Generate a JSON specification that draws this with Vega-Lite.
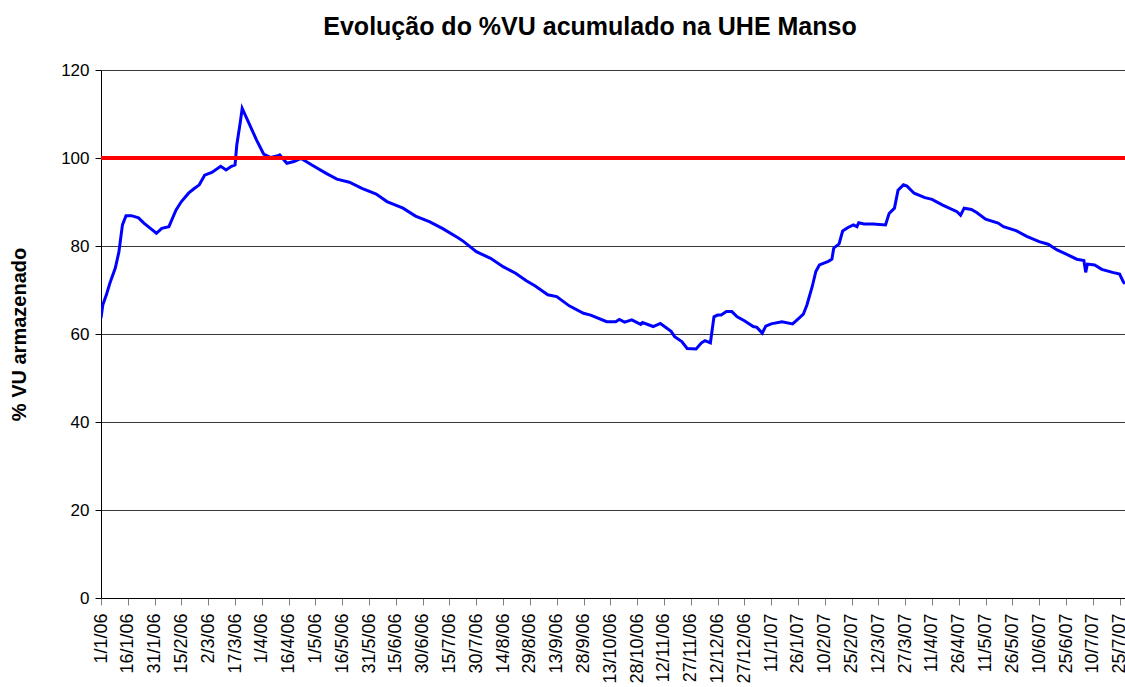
{
  "$schema": "https://vega.github.io/schema/vega-lite/v6.json",
  "width": 1024,
  "height": 528,
  "autosize": "none",
  "padding": {"left": 101, "top": 70, "right": 0, "bottom": 89},
  "background": "white",
  "title": {
    "text": "Evolução do %VU acumulado na UHE Manso",
    "font": "Liberation Sans",
    "fontSize": 25,
    "fontWeight": "bold",
    "color": "black",
    "anchor": "middle",
    "frame": "group",
    "dx": -23,
    "offset": 21
  },
  "config": {
    "view": {"stroke": null},
    "axis": {
      "labelFont": "Liberation Sans",
      "titleFont": "Liberation Sans",
      "labelColor": "black",
      "titleColor": "black"
    }
  },
  "data": {
    "values": [
      {"date": "2006-01-01", "vu": 63.6},
      {"date": "2006-01-02", "vu": 66.6},
      {"date": "2006-01-04", "vu": 68.9},
      {"date": "2006-01-06", "vu": 71.6},
      {"date": "2006-01-09", "vu": 75.0},
      {"date": "2006-01-11", "vu": 78.6},
      {"date": "2006-01-13", "vu": 84.8},
      {"date": "2006-01-15", "vu": 86.9},
      {"date": "2006-01-18", "vu": 86.9},
      {"date": "2006-01-22", "vu": 86.4},
      {"date": "2006-01-25", "vu": 85.2},
      {"date": "2006-01-29", "vu": 83.9},
      {"date": "2006-02-01", "vu": 82.9},
      {"date": "2006-02-04", "vu": 84.0},
      {"date": "2006-02-08", "vu": 84.4},
      {"date": "2006-02-12", "vu": 88.2},
      {"date": "2006-02-15", "vu": 90.1},
      {"date": "2006-02-19", "vu": 92.0},
      {"date": "2006-02-22", "vu": 93.0},
      {"date": "2006-02-25", "vu": 93.9},
      {"date": "2006-02-28", "vu": 96.1},
      {"date": "2006-03-04", "vu": 96.7},
      {"date": "2006-03-09", "vu": 98.1},
      {"date": "2006-03-12", "vu": 97.3},
      {"date": "2006-03-15", "vu": 98.1},
      {"date": "2006-03-17", "vu": 98.4},
      {"date": "2006-03-18", "vu": 103.0},
      {"date": "2006-03-20", "vu": 108.3},
      {"date": "2006-03-21", "vu": 111.3},
      {"date": "2006-03-24", "vu": 108.6},
      {"date": "2006-03-29", "vu": 104.1},
      {"date": "2006-04-02", "vu": 100.9},
      {"date": "2006-04-06", "vu": 100.1},
      {"date": "2006-04-10", "vu": 100.5},
      {"date": "2006-04-11", "vu": 100.7},
      {"date": "2006-04-15", "vu": 98.8},
      {"date": "2006-04-19", "vu": 99.2},
      {"date": "2006-04-23", "vu": 99.9},
      {"date": "2006-04-29", "vu": 98.4},
      {"date": "2006-05-07", "vu": 96.5},
      {"date": "2006-05-13", "vu": 95.2},
      {"date": "2006-05-20", "vu": 94.5},
      {"date": "2006-05-27", "vu": 93.1},
      {"date": "2006-06-04", "vu": 91.8},
      {"date": "2006-06-10", "vu": 90.1},
      {"date": "2006-06-19", "vu": 88.6},
      {"date": "2006-06-26", "vu": 86.8},
      {"date": "2006-07-04", "vu": 85.5},
      {"date": "2006-07-11", "vu": 84.0},
      {"date": "2006-07-20", "vu": 81.8},
      {"date": "2006-07-23", "vu": 81.0},
      {"date": "2006-07-30", "vu": 78.7},
      {"date": "2006-08-07", "vu": 77.2},
      {"date": "2006-08-14", "vu": 75.3},
      {"date": "2006-08-21", "vu": 73.8},
      {"date": "2006-08-27", "vu": 72.1},
      {"date": "2006-09-01", "vu": 70.9},
      {"date": "2006-09-08", "vu": 68.9},
      {"date": "2006-09-13", "vu": 68.5},
      {"date": "2006-09-20", "vu": 66.4},
      {"date": "2006-09-28", "vu": 64.7},
      {"date": "2006-10-02", "vu": 64.3},
      {"date": "2006-10-11", "vu": 62.8},
      {"date": "2006-10-16", "vu": 62.8},
      {"date": "2006-10-18", "vu": 63.3},
      {"date": "2006-10-21", "vu": 62.7},
      {"date": "2006-10-25", "vu": 63.2},
      {"date": "2006-10-30", "vu": 62.2},
      {"date": "2006-10-31", "vu": 62.6},
      {"date": "2006-11-06", "vu": 61.7},
      {"date": "2006-11-10", "vu": 62.4},
      {"date": "2006-11-16", "vu": 60.6},
      {"date": "2006-11-18", "vu": 59.4},
      {"date": "2006-11-22", "vu": 58.3},
      {"date": "2006-11-25", "vu": 56.7},
      {"date": "2006-11-30", "vu": 56.6},
      {"date": "2006-12-03", "vu": 58.0},
      {"date": "2006-12-05", "vu": 58.5},
      {"date": "2006-12-08", "vu": 58.0},
      {"date": "2006-12-10", "vu": 63.9},
      {"date": "2006-12-12", "vu": 64.3},
      {"date": "2006-12-14", "vu": 64.3},
      {"date": "2006-12-17", "vu": 65.1},
      {"date": "2006-12-20", "vu": 65.1},
      {"date": "2006-12-23", "vu": 63.9},
      {"date": "2006-12-27", "vu": 63.0},
      {"date": "2007-01-01", "vu": 61.7},
      {"date": "2007-01-03", "vu": 61.5},
      {"date": "2007-01-06", "vu": 60.2},
      {"date": "2007-01-08", "vu": 61.8},
      {"date": "2007-01-11", "vu": 62.3},
      {"date": "2007-01-17", "vu": 62.8},
      {"date": "2007-01-23", "vu": 62.3},
      {"date": "2007-01-26", "vu": 63.4},
      {"date": "2007-01-29", "vu": 64.5},
      {"date": "2007-01-31", "vu": 66.6},
      {"date": "2007-02-03", "vu": 70.8},
      {"date": "2007-02-05", "vu": 74.2},
      {"date": "2007-02-07", "vu": 75.7},
      {"date": "2007-02-12", "vu": 76.5},
      {"date": "2007-02-14", "vu": 77.0},
      {"date": "2007-02-15", "vu": 79.5},
      {"date": "2007-02-18", "vu": 80.5},
      {"date": "2007-02-20", "vu": 83.4},
      {"date": "2007-02-23", "vu": 84.2},
      {"date": "2007-02-26", "vu": 84.8},
      {"date": "2007-02-28", "vu": 84.4},
      {"date": "2007-03-01", "vu": 85.3},
      {"date": "2007-03-04", "vu": 85.0},
      {"date": "2007-03-09", "vu": 85.0},
      {"date": "2007-03-16", "vu": 84.8},
      {"date": "2007-03-18", "vu": 87.4},
      {"date": "2007-03-21", "vu": 88.6},
      {"date": "2007-03-23", "vu": 92.7},
      {"date": "2007-03-26", "vu": 93.9},
      {"date": "2007-03-28", "vu": 93.6},
      {"date": "2007-04-01", "vu": 92.0},
      {"date": "2007-04-07", "vu": 91.0},
      {"date": "2007-04-11", "vu": 90.6},
      {"date": "2007-04-17", "vu": 89.3},
      {"date": "2007-04-25", "vu": 87.8},
      {"date": "2007-04-27", "vu": 87.0},
      {"date": "2007-04-29", "vu": 88.6},
      {"date": "2007-05-03", "vu": 88.3},
      {"date": "2007-05-06", "vu": 87.6},
      {"date": "2007-05-11", "vu": 86.1},
      {"date": "2007-05-18", "vu": 85.2},
      {"date": "2007-05-21", "vu": 84.4},
      {"date": "2007-05-28", "vu": 83.5},
      {"date": "2007-06-03", "vu": 82.2},
      {"date": "2007-06-10", "vu": 81.0},
      {"date": "2007-06-15", "vu": 80.4},
      {"date": "2007-06-20", "vu": 79.1},
      {"date": "2007-06-26", "vu": 78.0},
      {"date": "2007-07-01", "vu": 77.0},
      {"date": "2007-07-05", "vu": 76.7},
      {"date": "2007-07-06", "vu": 74.0},
      {"date": "2007-07-07", "vu": 75.9},
      {"date": "2007-07-11", "vu": 75.7},
      {"date": "2007-07-15", "vu": 74.7},
      {"date": "2007-07-21", "vu": 74.0},
      {"date": "2007-07-25", "vu": 73.6},
      {"date": "2007-07-27", "vu": 71.9},
      {"date": "2007-07-28", "vu": 71.4}
    ]
  },
  "layer": [
    {
      "mark": {"type": "line", "color": "#0000FF", "strokeWidth": 3, "clip": true},
      "encoding": {
        "x": {
          "field": "date",
          "type": "temporal",
          "scale": {
            "type": "utc",
            "domain": [
              {"year": 2006, "month": 1, "date": 1, "utc": true},
              {"year": 2007, "month": 7, "date": 28, "utc": true}
            ]
          },
          "axis": {
            "title": null,
            "labelExpr": "utcFormat(datum.value, '%-d/%-m/%y')",
            "labelAngle": -90,
            "labelFontSize": 18,
            "labelPadding": 8,
            "labelOverlap": false,
            "labelFlush": false,
            "labelBound": false,
            "grid": false,
            "domainColor": "black",
            "domainWidth": 1,
            "tickColor": "#808080",
            "tickSize": 7,
            "values": [
              {"year": 2006, "month": 1, "date": 1, "utc": true},
              {"year": 2006, "month": 1, "date": 16, "utc": true},
              {"year": 2006, "month": 1, "date": 31, "utc": true},
              {"year": 2006, "month": 2, "date": 15, "utc": true},
              {"year": 2006, "month": 3, "date": 2, "utc": true},
              {"year": 2006, "month": 3, "date": 17, "utc": true},
              {"year": 2006, "month": 4, "date": 1, "utc": true},
              {"year": 2006, "month": 4, "date": 16, "utc": true},
              {"year": 2006, "month": 5, "date": 1, "utc": true},
              {"year": 2006, "month": 5, "date": 16, "utc": true},
              {"year": 2006, "month": 5, "date": 31, "utc": true},
              {"year": 2006, "month": 6, "date": 15, "utc": true},
              {"year": 2006, "month": 6, "date": 30, "utc": true},
              {"year": 2006, "month": 7, "date": 15, "utc": true},
              {"year": 2006, "month": 7, "date": 30, "utc": true},
              {"year": 2006, "month": 8, "date": 14, "utc": true},
              {"year": 2006, "month": 8, "date": 29, "utc": true},
              {"year": 2006, "month": 9, "date": 13, "utc": true},
              {"year": 2006, "month": 9, "date": 28, "utc": true},
              {"year": 2006, "month": 10, "date": 13, "utc": true},
              {"year": 2006, "month": 10, "date": 28, "utc": true},
              {"year": 2006, "month": 11, "date": 12, "utc": true},
              {"year": 2006, "month": 11, "date": 27, "utc": true},
              {"year": 2006, "month": 12, "date": 12, "utc": true},
              {"year": 2006, "month": 12, "date": 27, "utc": true},
              {"year": 2007, "month": 1, "date": 11, "utc": true},
              {"year": 2007, "month": 1, "date": 26, "utc": true},
              {"year": 2007, "month": 2, "date": 10, "utc": true},
              {"year": 2007, "month": 2, "date": 25, "utc": true},
              {"year": 2007, "month": 3, "date": 12, "utc": true},
              {"year": 2007, "month": 3, "date": 27, "utc": true},
              {"year": 2007, "month": 4, "date": 11, "utc": true},
              {"year": 2007, "month": 4, "date": 26, "utc": true},
              {"year": 2007, "month": 5, "date": 11, "utc": true},
              {"year": 2007, "month": 5, "date": 26, "utc": true},
              {"year": 2007, "month": 6, "date": 10, "utc": true},
              {"year": 2007, "month": 6, "date": 25, "utc": true},
              {"year": 2007, "month": 7, "date": 10, "utc": true},
              {"year": 2007, "month": 7, "date": 25, "utc": true}
            ]
          }
        },
        "y": {
          "field": "vu",
          "type": "quantitative",
          "scale": {"domain": [0, 120], "nice": false, "zero": true},
          "axis": {
            "title": "% VU armazenado",
            "titleFontSize": 20,
            "titleFontWeight": "bold",
            "titleX": -72,
            "titleY": 264,
            "values": [0, 20, 40, 60, 80, 100, 120],
            "labelFontSize": 17,
            "labelPadding": 6,
            "tickSize": 6,
            "tickColor": "black",
            "domainColor": "black",
            "domainWidth": 1,
            "grid": true,
            "gridColor": "#3a3a3a",
            "gridWidth": 1
          }
        }
      }
    },
    {
      "mark": {"type": "rule", "color": "#FF0000", "strokeWidth": 3},
      "encoding": {"y": {"datum": 100, "type": "quantitative"}}
    }
  ]
}
